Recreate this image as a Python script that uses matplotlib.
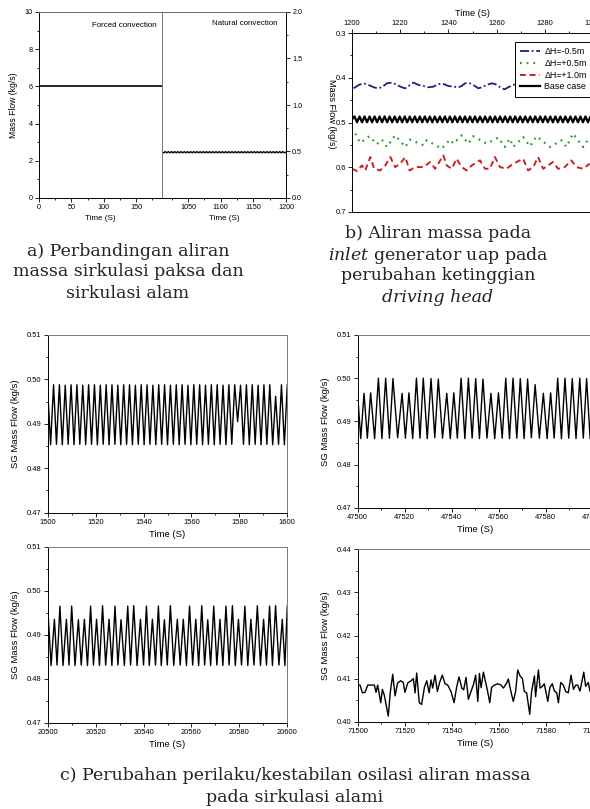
import numpy as np
import matplotlib
matplotlib.use('Agg')
import matplotlib.pyplot as plt
from matplotlib.ticker import MultipleLocator, FormatStrFormatter

plt.rcParams['font.family'] = ['Liberation Sans', 'DejaVu Sans']
plt.rcParams['mathtext.fontset'] = 'dejavuserif'

W, H = 590, 809

# a) forced circulation (0-190 s) and natural circulation (1010-1200 s)
a_forced_t = [0, 190]
a_forced_flow = [6.0, 6.0]
a_nat_flow = [
    0.4930, 0.4855, 0.4988, 0.4856, 0.4987, 0.4855, 0.4988, 0.4856, 0.4988, 0.4855,
    0.4987, 0.4856, 0.4988, 0.4855, 0.4988, 0.4856, 0.4987, 0.4855, 0.4988, 0.4856,
    0.4988, 0.4855, 0.4987, 0.4856, 0.4988, 0.4855, 0.4988, 0.4856, 0.4987, 0.4855,
    0.4988, 0.4856, 0.4988, 0.4855, 0.4987, 0.4856, 0.4988, 0.4855, 0.4988, 0.4856,
    0.4987, 0.4855, 0.4988, 0.4856, 0.4988, 0.4855, 0.4987, 0.4856, 0.4988, 0.4855,
    0.4988, 0.4856, 0.4987, 0.4855, 0.4988, 0.4856, 0.4988, 0.4855, 0.4987, 0.4856,
    0.4988, 0.4855, 0.4988, 0.4856, 0.4987, 0.4855, 0.4988, 0.4856, 0.4988, 0.4855,
    0.4987, 0.4856, 0.4988, 0.4855, 0.4988, 0.4856, 0.4987, 0.4855, 0.4930]

# b) driving head variation, 1200-1300 s
b_base = [
    0.4930, 0.4865, 0.4995, 0.4866, 0.4995, 0.4865, 0.4994, 0.4866, 0.4995, 0.4865,
    0.4995, 0.4866, 0.4994, 0.4865, 0.4995, 0.4866, 0.4995, 0.4865, 0.4994, 0.4866,
    0.4995, 0.4865, 0.4995, 0.4866, 0.4994, 0.4865, 0.4995, 0.4866, 0.4995, 0.4865,
    0.4994, 0.4866, 0.4995, 0.4865, 0.4995, 0.4866, 0.4994, 0.4865, 0.4995, 0.4866,
    0.4995, 0.4865, 0.4994, 0.4866, 0.4995, 0.4865, 0.4995, 0.4866, 0.4994, 0.4865,
    0.4995, 0.4866, 0.4995, 0.4865, 0.4994, 0.4866, 0.4995, 0.4865, 0.4995, 0.4866,
    0.4994, 0.4865, 0.4995, 0.4866, 0.4995, 0.4865, 0.4994, 0.4866, 0.4995, 0.4865,
    0.4995, 0.4866, 0.4994, 0.4865, 0.4995, 0.4866, 0.4995, 0.4865, 0.4994, 0.4866,
    0.4995, 0.4865, 0.4995, 0.4866, 0.4994, 0.4865, 0.4995, 0.4866, 0.4995, 0.4865,
    0.4994, 0.4866, 0.4995, 0.4865, 0.4995, 0.4866, 0.4930]

b_m05_t = [0.7, 2.8, 4.8, 6.9, 9.0, 10.6, 12.4, 14.5, 16.6, 18.6, 20.7, 22.1, 24.1,
           25.5, 27.6, 29.7, 31.7, 33.8, 35.9, 37.9, 40.0, 42.1, 44.1, 45.5, 46.9,
           49.0, 51.0, 52.4, 53.8, 55.9, 57.9, 59.3, 60.7, 62.1, 63.4, 64.8, 66.9, 68.3]
b_m05 = [0.4236, 0.4161, 0.4124, 0.4161, 0.4213, 0.4236, 0.4213, 0.4124, 0.4109,
         0.4161, 0.4213, 0.4236, 0.4161, 0.4109, 0.4161, 0.4184, 0.4213, 0.4199,
         0.4139, 0.4139, 0.4184, 0.4199, 0.4213, 0.4184, 0.4124, 0.4124, 0.4184,
         0.4236, 0.4213, 0.4161, 0.4124, 0.4139, 0.4184, 0.4236, 0.4258, 0.4213,
         0.4161, 0.4139]

b_p05_t = [1.4, 3.4, 7.2, 10.3, 12.4, 14.5, 17.9, 22.1, 24.1, 29.7, 31.0, 37.2, 40.7,
           42.1, 45.5, 48.3, 50.3, 55.9, 60.7, 63.4, 65.5, 66.9, 71.0, 73.8, 76.6,
           82.1, 86.9, 89.0, 91.7, 95.9, 98.6]
b_p05 = [0.5247, 0.5457, 0.5307, 0.5487, 0.5382, 0.5547, 0.5285, 0.5547, 0.5382,
         0.5509, 0.5397, 0.5584, 0.5382, 0.5472, 0.5285, 0.5472, 0.5307, 0.5472,
         0.5337, 0.5547, 0.5360, 0.5547, 0.5322, 0.5532, 0.5307, 0.5547, 0.5397,
         0.5547, 0.5247, 0.5547, 0.5322]

b_p10_t = [0.0, 2.1, 4.1, 5.5, 7.6, 9.2, 11.7, 13.8, 15.9, 17.9, 20.0, 22.1, 23.9,
           26.2, 29.7, 32.4, 34.5, 37.9, 39.3, 41.4, 43.4, 45.5, 47.6, 49.7, 53.1,
           55.2, 57.2, 59.3, 61.4, 64.1, 66.9, 71.0, 73.1, 75.2, 77.2, 79.3, 83.4,
           85.5, 88.3, 91.0, 93.1, 95.9, 98.6]
b_p10 = [0.6034, 0.6086, 0.5959, 0.6071, 0.5772, 0.6034, 0.6071, 0.5959, 0.5772,
         0.5996, 0.5921, 0.5772, 0.6071, 0.5996, 0.5996, 0.5884, 0.6034, 0.5734,
         0.5959, 0.6034, 0.5809, 0.5996, 0.6071, 0.5959, 0.5846, 0.6034, 0.6034,
         0.5772, 0.5996, 0.6034, 0.5921, 0.5809, 0.6071, 0.5996, 0.5772, 0.6034,
         0.5884, 0.6034, 0.5996, 0.5846, 0.5996, 0.6034, 0.5921]

# c) oscillation windows
c1_flow = [
    0.4975, 0.4853, 0.4988, 0.4854, 0.4988, 0.4853, 0.4987, 0.4854, 0.4988, 0.4853,
    0.4988, 0.4854, 0.4987, 0.4853, 0.4988, 0.4854, 0.4988, 0.4853, 0.4987, 0.4854,
    0.4988, 0.4853, 0.4988, 0.4854, 0.4987, 0.4853, 0.4988, 0.4854, 0.4988, 0.4853,
    0.4987, 0.4854, 0.4988, 0.4853, 0.4988, 0.4854, 0.4987, 0.4853, 0.4988, 0.4854,
    0.4988, 0.4853, 0.4987, 0.4854, 0.4988, 0.4853, 0.4988, 0.4854, 0.4987, 0.4853,
    0.4988, 0.4854, 0.4988, 0.4853, 0.4987, 0.4854, 0.4988, 0.4853, 0.4988, 0.4854,
    0.4987, 0.4853, 0.4988, 0.4854, 0.4988, 0.4905, 0.4987, 0.4854, 0.4988, 0.4853,
    0.4988, 0.4854, 0.4987, 0.4853, 0.4988, 0.4854, 0.4988, 0.4853, 0.4962, 0.4854,
    0.4988, 0.4853, 0.4988]

c2_t = [0.0, 1.3, 2.7, 4.1, 5.5, 7.2, 8.8, 10.3, 11.9, 13.5, 15.0, 17.0, 18.9, 20.3,
        21.8, 23.4, 25.0, 26.5, 27.9, 29.6, 31.2, 32.8, 34.3, 36.1, 37.9, 39.4, 40.9,
        42.4, 44.0, 45.6, 47.1, 48.7, 50.2, 51.8, 53.3, 55.0, 56.7, 58.3, 59.9, 61.5,
        63.0, 64.6, 66.1, 67.7, 69.2, 70.8, 72.3, 73.9, 75.5, 77.3, 79.0, 80.6, 82.1,
        83.6, 85.1, 86.7, 88.2, 89.8, 91.3, 92.9, 94.5, 96.0, 97.4, 98.9, 100.0]
c2_flow = [0.4960, 0.4860, 0.4965, 0.4861, 0.4966, 0.4860, 0.5000, 0.4860, 0.5000,
           0.4861, 0.4999, 0.4862, 0.4965, 0.4861, 0.4966, 0.4860, 0.5000, 0.4861,
           0.5000, 0.4860, 0.4999, 0.4862, 0.4998, 0.4861, 0.4965, 0.4860, 0.4966,
           0.4861, 0.5000, 0.4860, 0.5000, 0.4861, 0.4999, 0.4860, 0.4998, 0.4861,
           0.4965, 0.4860, 0.4966, 0.4861, 0.5000, 0.4860, 0.5000, 0.4861, 0.4999,
           0.4860, 0.4998, 0.4862, 0.4985, 0.4861, 0.4965, 0.4860, 0.4966, 0.4861,
           0.5000, 0.4860, 0.5000, 0.4861, 0.4999, 0.4860, 0.5000, 0.4861, 0.4999,
           0.4860, 0.4930]

c3_t = [0.0, 1.4, 2.8, 3.9, 5.1, 6.4, 7.8, 8.9, 10.0, 11.4, 12.8, 14.0, 15.3, 16.6,
        17.9, 19.1, 20.4, 21.6, 22.9, 24.2, 25.6, 26.8, 28.1, 29.3, 30.6, 32.0, 33.4,
        34.6, 35.9, 37.3, 38.7, 40.0, 41.2, 42.4, 43.7, 45.0, 46.2, 47.4, 48.7, 49.9,
        51.2, 52.6, 54.1, 55.3, 56.6, 57.9, 59.2, 60.5, 61.8, 63.0, 64.3, 65.5, 66.8,
        68.0, 69.3, 70.6, 71.9, 73.1, 74.4, 75.7, 77.1, 78.3, 79.6, 80.9, 82.3, 83.5,
        84.8, 86.1, 87.5, 88.8, 90.1, 91.3, 92.6, 93.8, 95.1, 96.5, 97.9, 99.0, 100.0]
c3_flow = [0.4965, 0.4830, 0.4935, 0.4831, 0.4965, 0.4830, 0.4935, 0.4831, 0.4965,
           0.4830, 0.4934, 0.4831, 0.4935, 0.4830, 0.4965, 0.4831, 0.4935, 0.4830,
           0.4966, 0.4831, 0.4935, 0.4830, 0.4965, 0.4831, 0.4934, 0.4830, 0.4965,
           0.4831, 0.4966, 0.4830, 0.4935, 0.4831, 0.4965, 0.4830, 0.4935, 0.4831,
           0.4965, 0.4830, 0.4934, 0.4831, 0.4966, 0.4830, 0.4935, 0.4831, 0.4935,
           0.4830, 0.4965, 0.4831, 0.4935, 0.4830, 0.4966, 0.4831, 0.4934, 0.4830,
           0.4965, 0.4831, 0.4935, 0.4830, 0.4965, 0.4831, 0.4966, 0.4830, 0.4935,
           0.4831, 0.4965, 0.4830, 0.4935, 0.4831, 0.4966, 0.4830, 0.4935, 0.4831,
           0.4965, 0.4830, 0.4966, 0.4831, 0.4935, 0.4830, 0.4965]

c4_t = [0.0, 1.0, 2.0, 3.1, 4.3, 7.1, 7.8, 8.5, 9.8, 10.5, 11.3, 13.0, 13.9, 14.9,
        15.9, 17.0, 18.3, 19.4, 20.1, 21.3, 22.7, 23.7, 24.4, 25.1, 26.2, 27.2, 28.4,
        29.4, 30.4, 31.2, 31.9, 32.9, 33.9, 34.8, 36.0, 37.2, 38.3, 39.7, 41.0, 42.1,
        43.1, 44.3, 45.1, 46.1, 47.1, 48.2, 49.2, 50.2, 51.1, 51.8, 52.5, 53.5, 54.5,
        55.3, 56.2, 57.0, 58.2, 59.6, 61.0, 62.0, 63.4, 64.1, 65.2, 66.2, 67.2, 68.1,
        69.1, 70.1, 70.9, 71.9, 73.2, 74.0, 75.2, 75.7, 76.9, 77.6, 78.6, 79.4, 80.9,
        81.8, 82.8, 83.7, 84.7, 85.4, 86.4, 87.5, 88.5, 89.6, 90.8, 91.8, 92.8, 93.6,
        94.6, 96.2, 97.0, 98.1, 98.9, 100.0]
c4_flow = [0.4085, 0.4085, 0.4067, 0.4068, 0.4085, 0.4085, 0.4068, 0.4085, 0.4044,
           0.4075, 0.4062, 0.4013, 0.4069, 0.4110, 0.4060, 0.4090, 0.4095, 0.4091,
           0.4068, 0.4090, 0.4095, 0.4100, 0.4067, 0.4113, 0.4044, 0.4040, 0.4080,
           0.4095, 0.4067, 0.4097, 0.4078, 0.4108, 0.4070, 0.4090, 0.4108, 0.4088,
           0.4085, 0.4070, 0.4044, 0.4080, 0.4104, 0.4078, 0.4074, 0.4103, 0.4052,
           0.4070, 0.4085, 0.4108, 0.4047, 0.4112, 0.4079, 0.4115, 0.4090, 0.4070,
           0.4044, 0.4080, 0.4085, 0.4088, 0.4085, 0.4078, 0.4090, 0.4099, 0.4070,
           0.4047, 0.4070, 0.4120, 0.4106, 0.4100, 0.4070, 0.4067, 0.4017, 0.4070,
           0.4106, 0.4058, 0.4120, 0.4078, 0.4082, 0.4088, 0.4047, 0.4080, 0.4088,
           0.4071, 0.4067, 0.4044, 0.4091, 0.4085, 0.4070, 0.4067, 0.4108, 0.4075,
           0.4085, 0.4085, 0.4071, 0.4115, 0.4082, 0.4091, 0.4070, 0.4090]


fig = plt.figure(figsize=(W / 100, H / 100), dpi=100)


def px_axes(x0, y0, x1, y1):
    return fig.add_axes([x0 / W, 1 - y1 / H, (x1 - x0) / W, (y1 - y0) / H])


def ticks(ax, size=5.5):
    ax.tick_params(which='both', direction='out', width=0.6, labelsize=size, pad=1.5)
    ax.tick_params(which='major', length=3)
    ax.tick_params(which='minor', length=1.6)
    for s in ax.spines.values():
        s.set_linewidth(0.7)


# ---------------- panel a ----------------
axa1 = px_axes(39, 12, 162, 198)
axa2 = px_axes(162, 12, 286, 198)
axa1.plot(a_forced_t, a_forced_flow, color='black', lw=1.2)
axa1.set_xlim(0, 190)
axa1.set_ylim(0, 10)
axa1.xaxis.set_major_locator(MultipleLocator(50))
axa1.xaxis.set_minor_locator(MultipleLocator(25))
axa1.yaxis.set_major_locator(MultipleLocator(2))
axa1.yaxis.set_minor_locator(MultipleLocator(1))
axa1.spines['right'].set_visible(False)
axa1.spines['top'].set_color('#666666')
ticks(axa1, 5.2)
axa1.set_xlabel('Time (S)', fontsize=5.8, labelpad=3)
axa1.set_ylabel('Mass Flow (kg/s)', fontsize=6.2, labelpad=5)
axa1.text(0.955, 0.93, 'Forced convection', transform=axa1.transAxes,
          ha='right', va='center', fontsize=5.7)

axa2.plot(np.linspace(1010, 1200, len(a_nat_flow)), a_nat_flow, color='black', lw=1.0)
axa2.set_xlim(1010, 1200)
axa2.set_ylim(0, 2.0)
axa2.xaxis.set_major_locator(MultipleLocator(50))
axa2.xaxis.set_minor_locator(MultipleLocator(25))
axa2.yaxis.set_major_locator(MultipleLocator(0.5))
axa2.yaxis.set_minor_locator(MultipleLocator(0.25))
axa2.yaxis.set_major_formatter(FormatStrFormatter('%.1f'))
axa2.yaxis.tick_right()
axa2.spines['left'].set_color('#777777')
axa2.spines['top'].set_color('#666666')
ticks(axa2, 5.2)
axa2.set_xlabel('Time (S)', fontsize=5.8, labelpad=3)
axa2.text(0.935, 0.94, 'Natural convection', transform=axa2.transAxes,
          ha='right', va='center', fontsize=5.7)

# ---------------- panel b ----------------
axb = px_axes(352, 33, 593, 212)
t0 = 1200
axb.plot([t0 + t for t in b_m05_t], b_m05, color='#1f1f80', lw=1.3,
         ls=(0, (5, 1.5, 1, 1.5)), label='ΔH=-0.5m')
axb.plot([t0 + t for t in b_p05_t], b_p05, color='#2e9a2e', lw=1.6,
         ls=(0, (0.8, 2.2)), label='ΔH=+0.5m')
axb.plot([t0 + t for t in b_p10_t], b_p10, color='#cc2020', lw=1.4,
         ls=(0, (3, 2)), label='ΔH=+1.0m')
axb.plot(np.linspace(1200, 1300, len(b_base)), b_base, color='black', lw=1.6,
         label='Base case')
axb.set_xlim(1200, 1300)
axb.set_ylim(0.7, 0.3)
axb.xaxis.set_major_locator(MultipleLocator(20))
axb.xaxis.set_minor_locator(MultipleLocator(10))
axb.yaxis.set_major_locator(MultipleLocator(0.1))
axb.yaxis.set_minor_locator(MultipleLocator(0.05))
axb.yaxis.set_major_formatter(FormatStrFormatter('%.1f'))
axb.xaxis.tick_top()
axb.xaxis.set_label_position('top')
ticks(axb, 5.4)
axb.set_xlabel('Time (S)', fontsize=6.6, labelpad=3)
axb.set_ylabel('Mass Flow (kg/s)', fontsize=6.6, rotation=270, labelpad=8)
axb.yaxis.set_label_coords(-0.105, 0.55)
leg = axb.legend(loc='upper left', bbox_to_anchor=(515 / W, 1 - 42 / H),
                 bbox_transform=fig.transFigure, fontsize=6.4, frameon=True,
                 fancybox=False, edgecolor='black', framealpha=1, borderaxespad=0,
                 handlelength=2.2, handletextpad=0.5, labelspacing=0.3,
                 borderpad=0.6)
leg.get_frame().set_linewidth(0.7)

# ---------------- panel c ----------------
def c_axes(rect, xs, ys, x0, ylo, yhi):
    ax = px_axes(*rect)
    ax.plot(xs, ys, color='black', lw=1.0)
    ax.set_xlim(x0, x0 + 100)
    ax.set_ylim(ylo, yhi)
    ax.xaxis.set_major_locator(MultipleLocator(20))
    ax.xaxis.set_minor_locator(MultipleLocator(10))
    ax.yaxis.set_major_locator(MultipleLocator(0.01))
    ax.yaxis.set_minor_locator(MultipleLocator(0.005))
    ax.yaxis.set_major_formatter(FormatStrFormatter('%.2f'))
    ax.spines['top'].set_color('#777777')
    ax.spines['right'].set_color('#777777')
    ticks(ax, 5.4)
    ax.set_xlabel('Time (S)', fontsize=6.8, labelpad=3)
    ax.set_ylabel('SG Mass Flow (kg/s)', fontsize=6.8, labelpad=5)
    return ax


c_axes((47.7, 335, 287.3, 512.7), np.linspace(1500, 1600, len(c1_flow)), c1_flow,
       1500, 0.47, 0.51)
c_axes((357.7, 335, 592.7, 507.7), [47500 + t for t in c2_t], c2_flow,
       47500, 0.47, 0.51)
c_axes((47.7, 546.7, 287.3, 722.7), [20500 + t for t in c3_t], c3_flow,
       20500, 0.47, 0.51)
c_axes((357.7, 549.3, 592.7, 721.7), [71500 + t for t in c4_t], c4_flow,
       71500, 0.40, 0.44)

# ---------------- captions ----------------
cap = dict(ha='center', va='center', fontsize=12.5, family='DejaVu Serif', color='#222222')
fig.text(128 / W, 1 - 251 / H, 'a) Perbandingan aliran', **cap)
fig.text(128 / W, 1 - 272 / H, 'massa sirkulasi paksa dan', **cap)
fig.text(128 / W, 1 - 293 / H, 'sirkulasi alam', **cap)
fig.text(438 / W, 1 - 234 / H, 'b) Aliran massa pada', **cap)
fig.text(438 / W, 1 - 255 / H, r'$\mathit{inlet}$ generator uap pada', **cap)
fig.text(438 / W, 1 - 276 / H, 'perubahan ketinggian', **cap)
fig.text(438 / W, 1 - 297 / H, 'driving head', style='italic', **cap)
fig.text(295 / W, 1 - 776 / H, 'c) Perubahan perilaku/kestabilan osilasi aliran massa', **cap)
fig.text(295 / W, 1 - 797 / H, 'pada sirkulasi alami', **cap)

fig.savefig('out.png', dpi=100)
